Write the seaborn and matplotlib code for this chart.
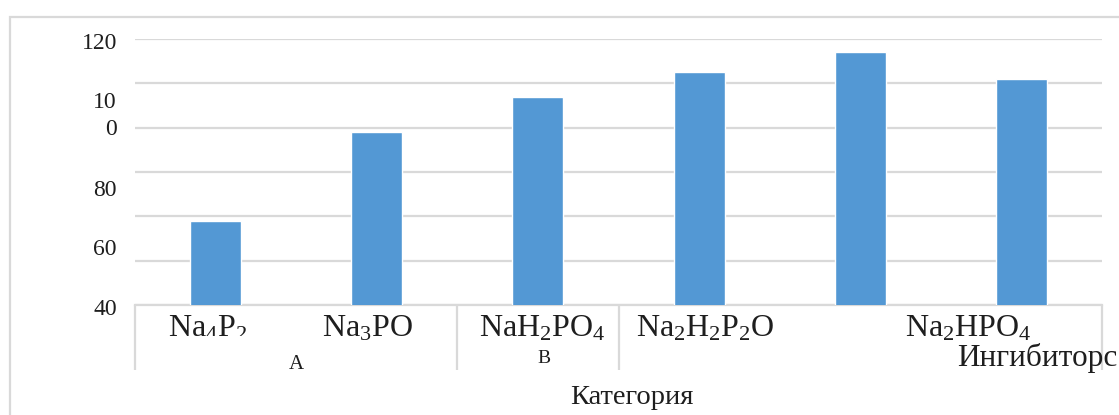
import matplotlib
matplotlib.use("Agg")
import matplotlib.pyplot as plt
import matplotlib.transforms as mtransforms
from matplotlib.patches import Rectangle
import pandas as pd
import seaborn as sns

# Data
categories = ["c1", "c2", "c3", "c4", "c5", "c6"]
values = [65.3, 92.0, 102.6, 110.2, 116.1, 108.0]

# Broken tick / category text as it appears on the chart
ytick_text = ["120", "10", "0", "80", "60", "40"]
ytick_at = [118.6, 100.9, 92.8, 74.4, 56.7, 38.6]
cat_text = [r"Na$_4$P$_2$", r"Na$_3$PO", r"NaH$_2$PO$_4$",
            r"Na$_2$H$_2$P$_2$O", r"Na$_2$HPO$_4$"]
cat_at = [-0.05, 0.94, 2.03, 3.04, 4.67]
group_text = ["А", "В", "Ингибиторс"]
group_at = [0.5, 2.04, 5.1]
group_edges = [-0.5, 1.5, 2.5, 5.5]
grid_vals = [40 + k * 80 / 6 for k in range(7)]

df = pd.DataFrame({"cat": categories, "val": values})

sns.set_theme(style="white")
plt.rcParams["font.family"] = ["Liberation Serif", "DejaVu Serif"]
plt.rcParams["mathtext.fontset"] = "custom"
plt.rcParams["mathtext.rm"] = "Liberation Serif"
plt.rcParams["mathtext.it"] = "Liberation Serif"

TXT = "#1e1e1e"
GRID = "#D9D9D9"

fig = plt.figure(figsize=(11.19, 4.15), dpi=100)
ax = fig.add_axes([135 / 1119, 1 - 305 / 415, 967 / 1119, 266 / 415])

sns.barplot(data=df, x="cat", y="val", color="#5398D4", saturation=1,
            width=0.317, ax=ax, zorder=3)

ax.set_ylim(40, 120)
ax.set_xlim(-0.5, 5.5)
ax.set_yticks([])
ax.set_xticks([])
ax.set_yticks(grid_vals, minor=True)
ax.tick_params(which="both", length=0)
ax.yaxis.grid(True, which="minor", color=GRID, linewidth=1.6)
ax.set_axisbelow(True)
for side in ["top", "right", "left"]:
    ax.spines[side].set_visible(False)
ax.spines["bottom"].set_color(GRID)
ax.spines["bottom"].set_linewidth(1.6)
ax.set_xlabel("")
ax.set_ylabel("")

# clipping of the original (bottom rows cut off)
clip_low = mtransforms.Bbox([[0, 415 - 315], [1119, 415]])
clip_cat = mtransforms.Bbox([[0, 415 - 336], [1119, 415]])

# y labels (misplaced as in the original)
ytr = mtransforms.blended_transform_factory(ax.transAxes, ax.transData)
for t, y in zip(ytick_text, ytick_at):
    txt = ax.text(-18 / 967, y, t, transform=ytr, ha="right", va="center",
                  fontsize=17, color=TXT, clip_on=(t == "40"))
    if t == "40":
        txt.set_clip_box(clip_low)

# category and group labels
xtr = mtransforms.blended_transform_factory(ax.transData, ax.transAxes)
for i, (t, x) in enumerate(zip(cat_text, cat_at)):
    txt = ax.text(x, -31 / 266, t, transform=xtr, ha="center",
                  va="baseline", fontsize=23, color=TXT, clip_on=(i == 0))
    if i == 0:
        txt.set_clip_box(clip_cat)
for t, x, fs, yb in zip(group_text, group_at, [15, 14, 22.5],
                        [-64 / 266, -58 / 266, -61 / 266]):
    ax.text(x, yb, t, transform=xtr, ha="center", va="baseline",
            fontsize=fs, color=TXT, clip_on=False)
ax.vlines(group_edges, -65 / 266, 0, transform=xtr, color=GRID,
          linewidth=1.6, clip_on=False)

ax.text(2.58, -99 / 266, "Категория", transform=xtr, ha="center",
        va="baseline", fontsize=20.5, color=TXT, clip_on=False)

# outer chart frame
fig.patches.append(Rectangle((10 / 1119, -0.1), 1.2, 1 - 17 / 415 + 0.1,
                             transform=fig.transFigure, fill=False,
                             edgecolor=GRID, linewidth=1.6))

fig.savefig("out.png", dpi=100)
